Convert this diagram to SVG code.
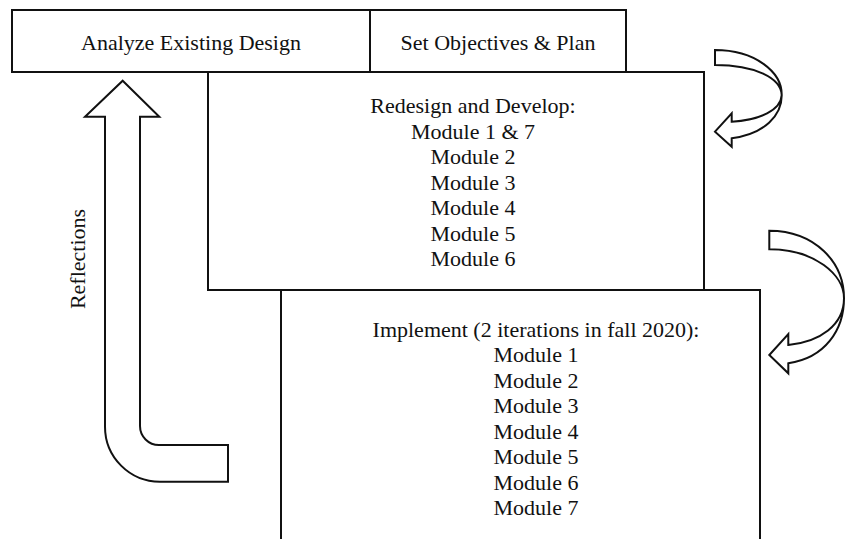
<svg xmlns="http://www.w3.org/2000/svg" width="847" height="539" viewBox="0 0 847 539">
<style>
.box{fill:none;stroke:#111;stroke-width:2}
.arr{fill:#fff;stroke:#111;stroke-width:2;stroke-linejoin:miter}
.t{font-size:22px;fill:#111;text-anchor:middle}
</style>
<rect width="847" height="539" fill="#fff"/>
<g font-family="Liberation Serif, serif">
<g id="analyze">
<rect class="box" x="12" y="10" width="358" height="62"/>
<text class="t" x="191" y="50">Analyze Existing Design</text>
</g>
<g id="objectives">
<rect class="box" x="370" y="10" width="256" height="62"/>
<text class="t" x="498" y="50">Set Objectives &amp; Plan</text>
</g>
<g id="redesign">
<rect class="box" x="208" y="72" width="496" height="218"/>
<text class="t" x="473" y="113">Redesign and Develop:</text>
<text class="t" x="473" y="138.5">Module 1 &amp; 7</text>
<text class="t" x="473" y="164">Module 2</text>
<text class="t" x="473" y="189.5">Module 3</text>
<text class="t" x="473" y="215">Module 4</text>
<text class="t" x="473" y="240.5">Module 5</text>
<text class="t" x="473" y="266">Module 6</text>
</g>
<g id="implement">
<rect class="box" x="281" y="290" width="479" height="260"/>
<text class="t" x="536" y="337">Implement (2 iterations in fall 2020):</text>
<text class="t" x="536" y="362">Module 1</text>
<text class="t" x="536" y="387.5">Module 2</text>
<text class="t" x="536" y="413">Module 3</text>
<text class="t" x="536" y="438.5">Module 4</text>
<text class="t" x="536" y="464">Module 5</text>
<text class="t" x="536" y="489.5">Module 6</text>
<text class="t" x="536" y="515">Module 7</text>
</g>
<g id="connectors">
<path class="arr" d="M122.7,80.7 L159.3,116.7 L140,116.7 L140,426 A19,19 0 0 0 159,445 L228,445 L228,481.7 L160,481.7 A55,55 0 0 1 105,426.7 L105,116.7 L85,116.7 Z"/>
<path class="arr" d="M715,50 C755,50 782,72 781.7,95 C781,110 760,120 731.7,121.7 L731.7,113.3 L715,131.7 L731.7,146.7 L731.7,138.3 C765,134 782,115 781.7,95 C781,78 755,65 715,65 Z"/>
<path class="arr" d="M769.3,230.7 C815,231 844,262 844,298.3 C844,325 820,342 788.3,345 L788.3,334 L769.3,355 L788.3,373.3 L788.3,363.3 C825,358 844,330 844,298.3 C844,275 815,249.3 769.3,249.3 Z"/>
</g>
<g id="reflections-label">
<text class="t" transform="translate(85,259) rotate(-90)">Reflections</text>
</g>
</g>
</svg>
